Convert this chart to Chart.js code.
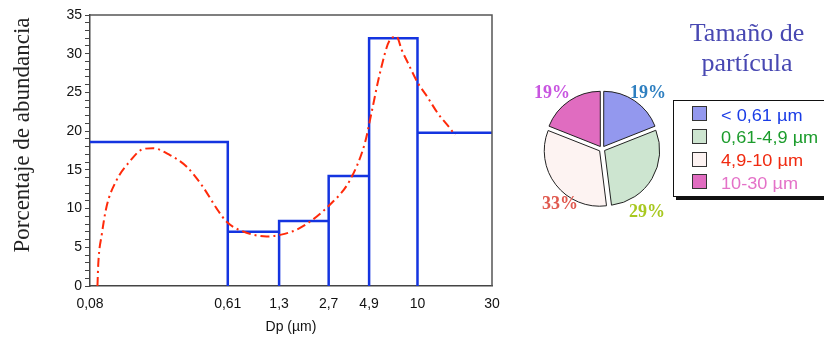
<!DOCTYPE html>
<html><head><meta charset="utf-8">
<script src="https://cdn.jsdelivr.net/npm/chart.js@4.4.1/dist/chart.umd.min.js"></script>
<style>
html,body{margin:0;padding:0;background:#fff;}
#wrap{position:relative;width:824px;height:341px;overflow:hidden;background:#fff;}
#main{position:absolute;left:0;top:0;}
#pie{position:absolute;left:522px;top:69px;}
#title{position:absolute;left:667px;top:18px;width:160px;text-align:center;font-family:"Liberation Serif","Times New Roman",serif;font-size:26px;line-height:30px;color:#4848b2;}
#legend{position:absolute;left:673px;top:100px;width:180px;height:95px;border:1.5px solid #111;box-shadow:3px 3px 0 #111;background:#fff;}
.sw{position:absolute;left:18px;width:13px;height:13px;border:1px solid #333;}
.lt{position:absolute;left:47px;font-family:"Liberation Sans",Arial,sans-serif;font-size:16.5px;line-height:15px;white-space:nowrap;transform:scaleX(1.1);transform-origin:left center;}
</style>
</head><body>
<div id="wrap">
<canvas id="main" width="520" height="341"></canvas>
<canvas id="pie" width="160" height="160"></canvas>
<div id="title">Tamaño de<br>partícula</div>
<div id="legend"></div>
</div>
<script>
// ---- data ----
const binEdges = [0.08, 0.61, 1.3, 2.7, 4.9, 10, 30];
const binHeights = [18.6, 7.0, 8.4, 14.2, 32.0, 19.8];
const curveX = [0.0893, 0.0904, 0.0951, 0.102, 0.1186, 0.144, 0.171, 0.202, 0.260, 0.333, 0.423, 0.518, 0.600, 0.730, 1.08, 1.32, 1.77, 2.75, 3.70, 4.61, 5.08, 5.75, 6.67, 7.35, 7.92, 8.69, 10.07, 11.5, 13.5, 16.1, 17.4];
const curveY = [0, 2.9, 6.6, 10.2, 13.7, 16.1, 17.6, 17.8, 16.9, 15.4, 12.8, 10.0, 8.3, 7.2, 6.4, 6.6, 7.5, 10.5, 13.7, 18.5, 22.4, 27.5, 31.8, 32.2, 30.5, 28.8, 26.2, 24.5, 22.3, 20.4, 19.5];
const xTickValues = [0.08, 0.61, 1.3, 2.7, 4.9, 10, 30];
const pieLabels = ['< 0,61 µm', '0,61-4,9 µm', '4,9-10 µm', '10-30 µm'];
const pieValues = [19, 29, 33, 19];

// ---- styles ----
const pieColors = ['#9398ee', '#cde5d0', '#fdf3f2', '#e06cc0'];
const legendTextColors = ['#1a3ce6', '#1c9c2c', '#f02a10', '#e472c8'];
const pctColors = ['#2e7fc0', '#a8c820', '#e05a50', '#c855e0'];
const SANS = '"Liberation Sans", Arial, sans-serif';
const SERIF = '"Liberation Serif", "Times New Roman", serif';

// histogram outline path built from edges / heights
const histPoints = [{x: binEdges[0], y: binHeights[0]}];
for (let i = 0; i < binHeights.length; i++) {
  histPoints.push({x: binEdges[i + 1], y: binHeights[i]});
  if (i < binHeights.length - 1) {
    histPoints.push({x: binEdges[i + 1], y: 0});
    histPoints.push({x: binEdges[i + 1], y: binHeights[i + 1]});
  }
}

const framePlugin = {
  id: 'frame',
  afterDraw(chart) {
    const {ctx, chartArea: a} = chart;
    ctx.save();
    ctx.strokeStyle = '#555';
    ctx.lineWidth = 1.5;
    ctx.beginPath();
    ctx.moveTo(a.left, a.top);
    ctx.lineTo(a.right, a.top);
    ctx.lineTo(a.right, a.bottom);
    ctx.stroke();
    ctx.restore();
  }
};
const yTitlePlugin = {
  id: 'ytitle',
  afterDraw(chart) {
    const ctx = chart.ctx;
    ctx.save();
    ctx.translate(23, 135);
    ctx.rotate(-Math.PI / 2);
    ctx.font = '23px ' + SERIF;
    ctx.fillStyle = '#222';
    ctx.textAlign = 'center';
    ctx.textBaseline = 'middle';
    ctx.fillText('Porcentaje de abundancia', 0, 0);
    ctx.restore();
  }
};

new Chart(document.getElementById('main'), {
  type: 'line',
  data: {
    datasets: [
      {data: curveX.map((x, i) => ({x, y: curveY[i]})), borderColor: '#ff2a0a', borderWidth: 2,
       borderDash: [9, 4, 2, 4], pointRadius: 0, cubicInterpolationMode: 'monotone', fill: false},
      {data: histPoints, borderColor: '#1434e0', borderWidth: 2.5, pointRadius: 0, tension: 0, fill: false}
    ]
  },
  options: {
    responsive: false, animation: false, devicePixelRatio: 1,
    layout: {padding: {top: 15, right: 28, left: 0, bottom: 0}},
    plugins: {legend: {display: false}, tooltip: {enabled: false}},
    scales: {
      x: {
        type: 'logarithmic', min: 0.08, max: 30,
        afterBuildTicks: s => { s.ticks = xTickValues.map(v => ({value: v})); },
        afterFit: s => { s.height = 55; },
        ticks: {callback: v => String(v).replace('.', ','), autoSkip: false, maxRotation: 0, padding: 10,
                color: '#111', font: {family: SANS, size: 14}},
        grid: {display: true, drawOnChartArea: false, drawTicks: false},
        border: {color: '#444', width: 1.5},
        title: {display: true, text: 'Dp (µm)', color: '#111', font: {family: SANS, size: 14}, padding: {top: 0, bottom: 5}}
      },
      y: {
        min: 0, max: 35,
        afterFit: s => { s.width = 90; },
        ticks: {stepSize: 1, autoSkip: false, callback: v => (v % 5 === 0 ? v : ''), padding: 3,
                color: '#111', font: {family: SANS, size: 14}},
        grid: {drawOnChartArea: false, drawTicks: true, tickLength: 5, color: '#444'},
        border: {color: '#444', width: 1.5}
      }
    }
  },
  plugins: [framePlugin, yTitlePlugin]
});

const pieLabelPlugin = {
  id: 'pieLabels',
  afterDatasetsDraw(chart, args, opts) {
    const meta = chart.getDatasetMeta(0);
    const ctx = chart.ctx;
    ctx.save();
    ctx.font = 'bold 18px ' + SERIF;
    ctx.textAlign = 'center';
    ctx.textBaseline = 'middle';
    meta.data.forEach((arc, i) => {
      const [dx, dy] = opts.offsets[i];
      ctx.fillStyle = pctColors[i];
      ctx.fillText(pieValues[i] + '%', arc.x + dx, arc.y + dy);
    });
    ctx.restore();
  }
};

new Chart(document.getElementById('pie'), {
  type: 'pie',
  data: {
    labels: pieLabels,
    datasets: [{data: pieValues, backgroundColor: pieColors, borderColor: '#222', borderWidth: 1, offset: 12, radius: 55}]
  },
  options: {
    responsive: false, animation: false, devicePixelRatio: 1,
    layout: {padding: 0},
    plugins: {legend: {display: false}, tooltip: {enabled: false},
              pieLabels: {offsets: [[46, -56], [45, 63], [-42, 55], [-50, -56]]}}
  },
  plugins: [pieLabelPlugin]
});

// legend
const lg = document.getElementById('legend');
pieLabels.forEach((t, i) => {
  const top = 5 + i * 22.8;
  const sw = document.createElement('div');
  sw.className = 'sw';
  sw.style.top = top + 'px';
  sw.style.background = pieColors[i];
  lg.appendChild(sw);
  const tx = document.createElement('div');
  tx.className = 'lt';
  tx.style.top = (top + 1.5) + 'px';
  tx.style.color = legendTextColors[i];
  tx.textContent = t;
  lg.appendChild(tx);
});
</script>
</body></html>
